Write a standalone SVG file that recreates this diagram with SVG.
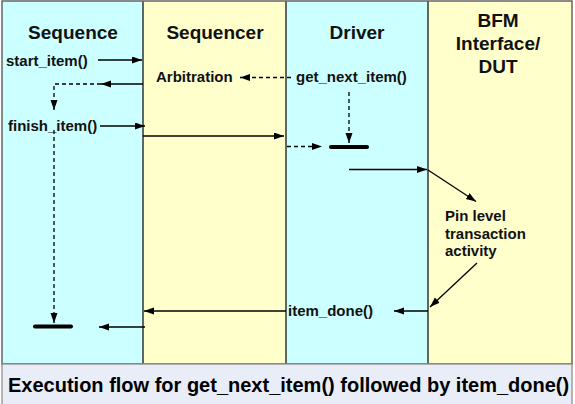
<svg xmlns="http://www.w3.org/2000/svg" width="575" height="404" viewBox="0 0 575 404">
<style>
.lane-c{fill:#ccffff}
.lane-y{fill:#ffffcc}
.div{stroke:#333;stroke-width:1.5}
.hdr{font-family:"Liberation Sans",Arial,sans-serif;font-weight:bold;font-size:19px;fill:#111;text-anchor:middle}
.lbl{font-family:"Liberation Sans",Arial,sans-serif;font-weight:bold;font-size:15px;fill:#111}
.ln{stroke:#000;stroke-width:1.3;fill:none}
.dash{stroke:#000;stroke-width:1.3;fill:none;stroke-dasharray:4 3}
.bar{stroke:#000;stroke-width:4;stroke-linecap:round}
.foot{font-family:"Liberation Sans",Arial,sans-serif;font-weight:bold;font-size:20px;fill:#000}
</style>
<defs>
<marker id="ah" markerUnits="userSpaceOnUse" markerWidth="11" markerHeight="8" refX="10" refY="3.5" orient="auto">
<path d="M0,0 L10,3.5 L0,7 z" fill="#000"/>
</marker>
</defs>
<rect x="0" y="0" width="575" height="404" fill="#ffffff"/>
<g id="lane-sequence">
<rect class="lane-c" x="2" y="1" width="141" height="363"/>
<text class="hdr" x="73" y="39">Sequence</text>
<text class="lbl" x="6" y="66">start_item()</text>
<text class="lbl" x="8" y="131">finish_item()</text>
<line class="bar" x1="35" y1="326.5" x2="71" y2="326.5"/>
</g>
<g id="lane-sequencer">
<rect class="lane-y" x="143" y="1" width="143" height="363"/>
<text class="hdr" x="215" y="39">Sequencer</text>
<text class="lbl" x="156" y="82">Arbitration</text>
</g>
<g id="lane-driver">
<rect class="lane-c" x="286" y="1" width="142" height="363"/>
<text class="hdr" x="357" y="39">Driver</text>
<text class="lbl" x="296" y="82">get_next_item()</text>
<text class="lbl" x="288" y="316">item_done()</text>
<line class="bar" x1="331" y1="147" x2="367" y2="147"/>
</g>
<g id="lane-bfm">
<rect class="lane-y" x="428" y="1" width="144" height="363"/>
<text class="hdr" x="498" y="27">BFM</text>
<text class="hdr" x="498" y="50">Interface/</text>
<text class="hdr" x="498" y="73">DUT</text>
<text class="lbl" x="445" y="221">Pin level</text>
<text class="lbl" x="445" y="239">transaction</text>
<text class="lbl" x="445" y="256">activity</text>
</g>
<g id="frame">
<line class="div" x1="143" y1="1" x2="143" y2="364"/>
<line class="div" x1="286" y1="1" x2="286" y2="364"/>
<line class="div" x1="428" y1="1" x2="428" y2="364"/>
<rect x="2" y="1" width="570" height="363" fill="none" stroke="#666" stroke-width="1.5"/>
</g>
<g id="connectors">
<line class="ln" x1="98" y1="60" x2="142" y2="60" marker-end="url(#ah)"/>
<line class="ln" x1="143" y1="84" x2="101" y2="84" marker-end="url(#ah)"/>
<polyline class="dash" points="101,84 54,84 54,110" marker-end="url(#ah)"/>
<line class="dash" x1="291" y1="77.5" x2="240" y2="77.5" marker-end="url(#ah)"/>
<line class="ln" x1="100" y1="126" x2="145" y2="126" marker-end="url(#ah)"/>
<line class="ln" x1="143" y1="136" x2="284" y2="136" marker-end="url(#ah)"/>
<line class="dash" x1="349" y1="92" x2="349" y2="143" marker-end="url(#ah)"/>
<line class="dash" x1="287" y1="146.5" x2="322" y2="146.5" marker-end="url(#ah)"/>
<line class="ln" x1="349" y1="169.5" x2="427" y2="169.5" marker-end="url(#ah)"/>
<line class="ln" x1="428" y1="170" x2="476" y2="201.5" marker-end="url(#ah)"/>
<line class="ln" x1="477" y1="263" x2="430" y2="307" marker-end="url(#ah)"/>
<line class="ln" x1="428" y1="311" x2="394" y2="311" marker-end="url(#ah)"/>
<line class="ln" x1="286" y1="311" x2="144" y2="311" marker-end="url(#ah)"/>
<line class="dash" x1="54" y1="130" x2="54" y2="323" marker-end="url(#ah)"/>
<line class="ln" x1="145" y1="327" x2="99" y2="327" marker-end="url(#ah)"/>
</g>
<g id="footer">
<rect x="2" y="364" width="570" height="42" fill="#e8edf8" stroke="#888" stroke-width="1.2"/>
<text class="foot" x="8" y="392">Execution flow for get_next_item() followed by item_done()</text>
</g>
</svg>
